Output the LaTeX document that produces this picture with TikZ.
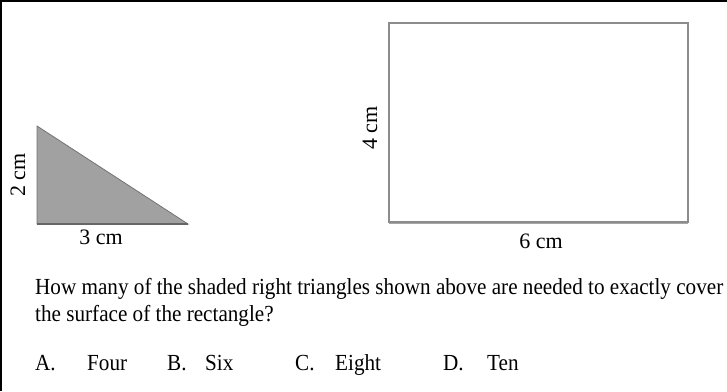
\documentclass[tikz,border=0pt]{standalone}
\usepackage{fontspec}
\setmainfont{Liberation Serif}
\usepackage{graphicx}

\newcommand{\narrow}[1]{\scalebox{0.92}[1]{#1}}

\tikzset{
  txt/.style={inner sep=0pt, anchor=base west, font=\fontsize{23}{27}\selectfont},
  dim/.style={inner sep=0pt, anchor=base, font=\fontsize{22}{26}\selectfont},
  shaded/.style={fill=black!37, draw=black!55, line width=0.8pt},
  outline/.style={draw=black!45, line width=1.3pt}
}

\begin{document}
\begin{tikzpicture}[x=1pt, y=-1pt]
  \useasboundingbox (0,0) rectangle (727,391);
  % frame
  \draw[line width=1.5pt] (1,391) -- (1,1) -- (727,1);

  % triangle
  \coordinate (ta) at (37,126);
  \coordinate (tb) at (37,224);
  \coordinate (tc) at (188,224);
  \filldraw[shaded] (ta) -- (tb) -- (tc) -- cycle;
  \draw[black!60, line width=1.4pt] (tb) -- (tc);
  \node[dim, rotate=90] (side) at (25,175) {2 cm};
  \node[dim] (base) at (101,244) {3 cm};

  % rectangle
  \coordinate (ra) at (389,23);
  \coordinate (rb) at (688,222);
  \draw[outline] (ra) rectangle (rb);
  \draw[black!35, line width=1.5pt] (389,223.5) -- (688,223.5);
  \node[dim, rotate=90] (height) at (377,128) {4 cm};
  \node[dim] (width) at (541,248) {6 cm};

  % question
  \node[txt] (q1) at (35,294) {\narrow{How many of the shaded right triangles shown above are needed to exactly cover}};
  \node[txt] (q2) at (35,321) {\narrow{the surface of the rectangle?}};

  % answers
  \node[txt] (la) at (35,370) {\narrow{A.}};
  \node[txt] (aa) at (87,370) {\narrow{Four}};
  \node[txt] (lb) at (167,370) {\narrow{B.}};
  \node[txt] (ab) at (205,370) {\narrow{Six}};
  \node[txt] (lc) at (295,370) {\narrow{C.}};
  \node[txt] (ac) at (335,370) {\narrow{Eight}};
  \node[txt] (ld) at (443,370) {\narrow{D.}};
  \node[txt] (ad) at (487,370) {\narrow{Ten}};
\end{tikzpicture}
\end{document}
